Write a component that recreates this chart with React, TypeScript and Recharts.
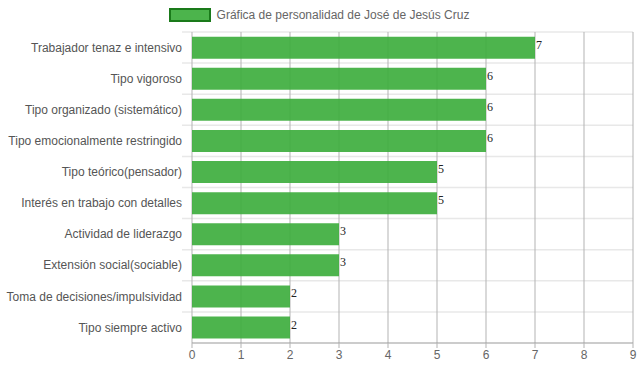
import { BarChart, Bar, XAxis, YAxis, CartesianGrid, Legend, LabelList } from 'recharts'

const traits = [
  'Trabajador tenaz e intensivo',
  'Tipo vigoroso',
  'Tipo organizado (sistemático)',
  'Tipo emocionalmente restringido',
  'Tipo teórico(pensador)',
  'Interés en trabajo con detalles',
  'Actividad de liderazgo',
  'Extensión social(sociable)',
  'Toma de decisiones/impulsividad',
  'Tipo siempre activo',
]
const scores = [7, 6, 6, 6, 5, 5, 3, 3, 2, 2]
const xTicks = [0, 1, 2, 3, 4, 5, 6, 7, 8, 9]
const seriesName = 'Gráfica de personalidad de José de Jesús Cruz'

const data = traits.map((name, i) => ({ name, value: scores[i] }))

const FONT = '"Liberation Sans", Arial, sans-serif'

function LegendContent() {
  return (
    <div style={{ display: 'flex', justifyContent: 'center', alignItems: 'center', fontFamily: FONT, fontSize: 12, color: '#666' }}>
      <span
        style={{
          display: 'inline-block',
          width: 38,
          height: 10,
          background: '#4cb44c',
          border: '2px solid #1a7a1a',
          marginRight: 6,
          marginLeft: 5,
        }}
      />
      <span>{seriesName}</span>
    </div>
  )
}

function ValueLabel(props: any) {
  const { x, y, width, value } = props
  return (
    <text x={x + width + 1} y={y + 12} fontFamily='"Liberation Serif", "Times New Roman", serif' fontSize={12} fill="#222" textAnchor="start">
      {value}
    </text>
  )
}

function TraitTick(props: any) {
  const { x, y, payload } = props
  return (
    <text x={x - 8} y={y} dy="0.35em" textAnchor="end" fontFamily={FONT} fontSize={12} fill="#555">
      {payload.value}
    </text>
  )
}

function HLine(props: any) {
  const { x1, x2, y1, y2 } = props
  return <line x1={x1 - 10} x2={x2} y1={y1} y2={y2} stroke="#e8e8e8" strokeWidth={1.5} />
}

function VLine(props: any) {
  const { x1, x2, y1, y2 } = props
  return <line x1={x1} x2={x2} y1={y1} y2={y2} stroke="#b3b3b3" strokeWidth={1} />
}

export default function App() {
  return (
    <div style={{ position: 'absolute', left: 0, top: 0, width: 639, height: 372, background: '#fff' }}>
      <BarChart
        width={639}
        height={372}
        data={data}
        layout="vertical"
        margin={{ top: 8, right: 6, left: 0, bottom: 5 }}
        barCategoryGap="15%"
      >
        <Legend verticalAlign="top" height={24} content={<LegendContent />} />
        <CartesianGrid
          horizontal={HLine}
          vertical={VLine}
          horizontalCoordinatesGenerator={({ offset }: any) =>
            traits.map((_, i) => offset.top + (i * offset.height) / traits.length)
          }
        />
        <XAxis
          type="number"
          domain={[0, 9]}
          ticks={xTicks}
          interval={0}
          height={24}
          tickSize={5}
          tickMargin={2}
          axisLine={{ stroke: '#999' }}
          tickLine={{ stroke: '#b3b3b3' }}
          tick={{ fontSize: 12, fill: '#666', fontFamily: FONT }}
        />
        <YAxis
          type="category"
          dataKey="name"
          width={192}
          tickSize={0}
          axisLine={false}
          tickLine={false}
          interval={0}
          tick={<TraitTick />}
        />
        <Bar dataKey="value" name={seriesName} fill="#3aac3a" fillOpacity={0.9} isAnimationActive={false}>
          <LabelList dataKey="value" content={<ValueLabel />} />
        </Bar>
      </BarChart>
    </div>
  )
}
